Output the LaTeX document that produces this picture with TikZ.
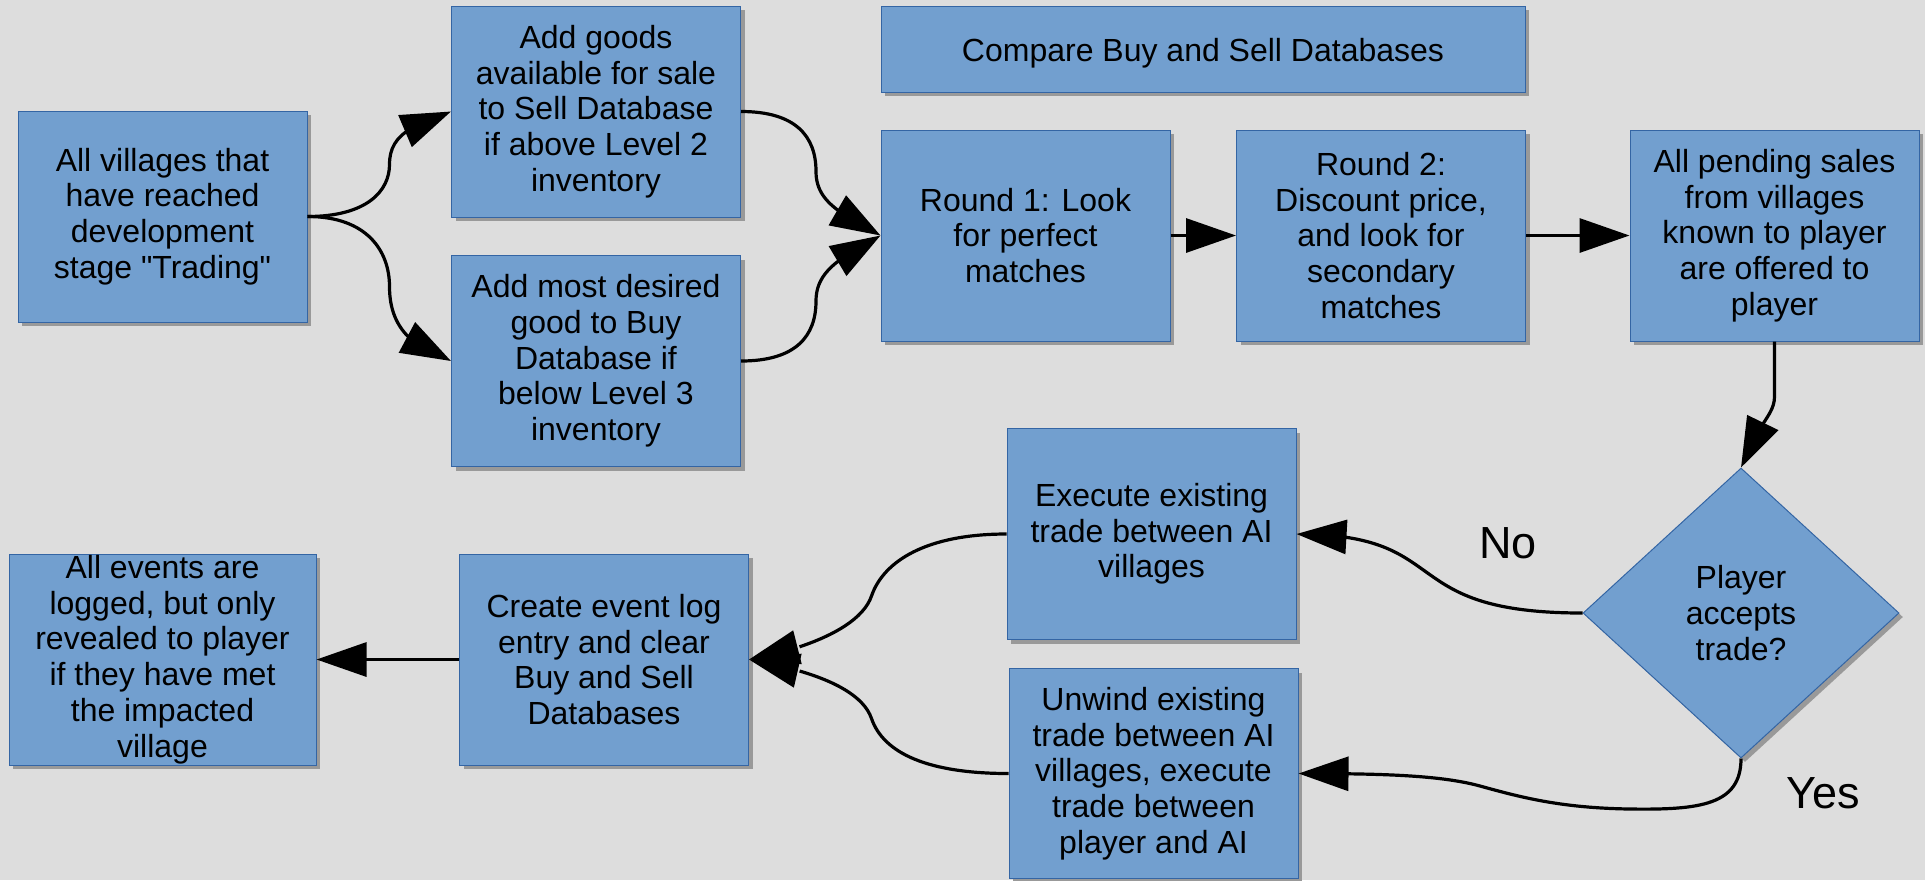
\documentclass[tikz,border=0pt]{standalone}
\usepackage{fontspec}
\setmainfont{Liberation Sans}[Ligatures=TeXOff]
\usetikzlibrary{shapes.geometric,arrows.meta,bending,shadows}
\definecolor{boxfill}{HTML}{729FCF}
\definecolor{boxline}{HTML}{3465A4}
\definecolor{bgcol}{HTML}{DDDDDD}
\definecolor{shadowc}{HTML}{999999}
\newcommand{\dgfont}{\fontsize{16pt}{17.85pt}\selectfont}
\newcommand{\lblfont}{\fontsize{22.5pt}{27pt}\selectfont}
\begin{document}
\begin{tikzpicture}[x=0.5pt,y=-0.5pt,
  shad/.style={drop shadow={shadow xshift=2pt,shadow yshift=-2pt,fill=shadowc,opacity=1}},
  txtfix/.style={execute at begin node={\rule{0pt}{15.4pt}}},
  box/.style={shad,txtfix,draw=boxline,line width=0.5pt,fill=boxfill,inner sep=0pt,
    minimum width=144.5pt,minimum height=105.5pt,align=center,font=\dgfont},
  dia/.style={shad,txtfix,diamond,draw=boxline,line width=0.5pt,fill=boxfill,inner sep=0pt,
    minimum width=158pt,minimum height=145pt,align=center,font=\dgfont},
  lbl/.style={font=\lblfont,inner sep=0pt},
  conn/.style={line width=1.6pt,-{Triangle[length=25pt,width=17pt,flex]}}]
\useasboundingbox (0,0) rectangle (1925,880);
\fill[bgcol] (0,0) rectangle (1925,880);

\node[box] (A) at (162.5,216.5) {All villages that\\have reached\\development\\stage "Trading"};
\node[box] (B) at (596,111.5) {Add goods\\available for sale\\to Sell Database\\if above Level 2\\inventory};
\node[box] (C) at (596,361) {Add most desired\\good to Buy\\Database if\\below Level 3\\inventory};
\node[box,minimum width=322pt,minimum height=43pt] (cmp) at (1203,49) {Compare Buy and Sell Databases};
\node[box] (R1) at (1025.5,235.5) {Round 1: Look\\for perfect\\matches};
\node[box] (R2) at (1381,235.5) {Round 2:\\Discount price,\\and look for\\secondary\\matches};
\node[box] (P) at (1774.5,235.5) {All pending sales\\from villages\\known to player\\are offered to\\player};
\node[dia] (D) at (1741,613) {Player\\accepts\\trade?};
\node[box] (E) at (1151.5,534) {Execute existing\\trade between AI\\villages};
\node[box,minimum height=105pt] (U) at (1153.5,773.5) {Unwind existing\\trade between AI\\villages, execute\\trade between\\player and AI};
\node[box] (L) at (604,659.5) {Create event log\\entry and clear\\Buy and Sell\\Databases};
\node[box,minimum width=153.5pt] (V) at (162.5,659.5) {All events are\\logged, but only\\revealed to player\\if they have met\\the impacted\\village};

\node[lbl] (no) at (1508,543) {No};
\node[lbl] (yes) at (1823,793) {Yes};

\draw[conn] (A.east) .. controls +(60,0) and +(0,26) .. ++(82,-52)
  .. controls +(0,-26) and +(-45,15) .. (B.west);
\draw[conn] (A.east) .. controls +(60,0) and +(0,-35) .. ++(82,70)
  .. controls +(0,35) and +(-45,-15) .. (C.west);
\draw[conn] (B.east) .. controls +(55,0) and +(0,-35) .. ++(75,60)
  .. controls +(0,30) and +(-40,-22) .. (R1.west);
\draw[conn] (C.east) .. controls +(55,0) and +(0,35) .. ++(75,-60)
  .. controls +(0,-30) and +(-40,22) .. (R1.west);
\draw[conn] (R1.east) -- (R2.west);
\draw[conn] (R2.east) -- (P.west);
\draw[conn] (P.south) -- ++(0,55) .. controls +(0,20) and +(14,-42) .. (D.north);
\draw[conn] (D.west) .. controls +(-190,0) and +(160,0) .. (E.east);
\draw[conn] (D.south) .. controls (1741,805) and (1700,810) .. (1630,809)
  .. controls (1560,808) and (1520,797) .. (1480,786)
  .. controls (1440,775) and (1380,773.5) .. (U.east);
\draw[conn] (E.west) .. controls +(-80,0) and +(12,-35) .. ++(-135,62)
  .. controls +(-12,35) and +(45,-8) .. (L.east);
\draw[conn] (U.west) .. controls +(-80,0) and +(12,35) .. ++(-137,-55)
  .. controls +(-12,-35) and +(45,8) .. (L.east);
\draw[conn] (L.west) -- (V.east);
\end{tikzpicture}
\end{document}
